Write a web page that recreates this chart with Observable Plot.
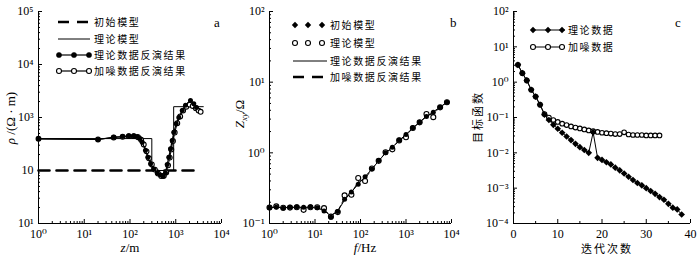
<!DOCTYPE html>
<html><head><meta charset="utf-8">
<script src="https://cdn.jsdelivr.net/npm/d3@7"></script>
<script src="https://cdn.jsdelivr.net/npm/@observablehq/plot@0.6"></script>
<style>
body{margin:0;background:#fff;}
#wrap{position:relative;width:700px;height:263px;overflow:hidden;}
.panel{position:absolute;top:0;height:263px;}
</style></head><body><div id="wrap"></div>
<script>
// ---------- Panel a: resistivity vs depth ----------
const aXTicks = [1, 10, 100, 1000, 10000];
const aXTickLabels = ["10⁰", "10¹", "10²", "10³", "10⁴"];
const aYTicks = [10, 100, 1000, 10000, 100000];
const aYTickLabels = ["10¹", "10", "10³", "10⁴", "10⁵"];
const aInitDepth = [1, 2500];
const aInitRho = [100, 100];
const aModelDepth = [1, 300, 300, 900, 900, 4000];
const aModelRho = [400, 400, 100, 100, 1600, 1600];
const aTheoryDepth = [1, 20, 44, 69, 94, 121, 144, 165, 185, 218, 245, 281, 331, 393, 464, 532, 597, 650, 705, 768, 836, 906, 1023, 1166, 1384, 1633, 2100, 2480, 2840];
const aTheoryRho   = [396, 385, 425, 437, 452, 452, 437, 400, 340, 240, 178, 134, 107, 90, 82, 77, 90, 130, 178, 257, 370, 525, 760, 1000, 1350, 1700, 2100, 1820, 1550];
const aNoisyDepth = [1, 20, 44, 69, 94, 121, 150, 175, 200, 230, 260, 300, 350, 410, 480, 550, 620, 680, 740, 800, 870, 950, 1080, 1250, 1450, 1700, 2000, 2350, 2750, 3150, 3500];
const aNoisyRho   = [396, 385, 420, 432, 445, 445, 425, 380, 310, 230, 170, 130, 104, 88, 79, 80, 92, 125, 175, 250, 360, 520, 780, 1050, 1350, 1600, 1750, 1650, 1500, 1350, 1280];
const aLegend = ["初始模型", "理论模型", "理论数据反演结果", "加噪数据反演结果"];

// ---------- Panel b: impedance vs frequency ----------
const bXTicks = [1, 10, 100, 1000, 10000];
const bXTickLabels = ["10⁰", "10¹", "10²", "10³", "10⁴"];
const bYTicks = [0.1, 1, 10, 100];
const bYTickLabels = ["10⁻¹", "10⁰", "10¹", "10²"];
const bFreq = [1, 1.41, 2, 2.82, 3.98, 5.62, 7.94, 11.2, 15.8, 22.4, 31.6, 44.7, 63.1, 89.1, 126, 178, 251, 355, 501, 708, 1000, 1413, 1995, 2818, 3981, 5623, 7943];
const bInitZ  = [0.167, 0.17, 0.165, 0.17, 0.172, 0.17, 0.172, 0.167, 0.15, 0.123, 0.148, 0.22, 0.28, 0.36, 0.46, 0.59, 0.78, 1.0, 1.2, 1.52, 1.82, 2.26, 2.7, 3.26, 3.75, 4.4, 5.2];
const bModelZ = [0.168, 0.175, 0.167, 0.168, 0.17, 0.156, 0.17, 0.17, 0.165, 0.125, 0.145, 0.25, 0.255, 0.44, 0.40, 0.6, 0.77, 1.02, 1.12, 1.5, 1.66, 2.25, 2.7, 3.55, 3.2, 4.4, 5.2];
const bTheoryInvZ = [0.168, 0.169, 0.168, 0.169, 0.17, 0.17, 0.17, 0.166, 0.152, 0.128, 0.15, 0.215, 0.28, 0.36, 0.46, 0.59, 0.77, 0.99, 1.2, 1.5, 1.82, 2.25, 2.7, 3.25, 3.8, 4.45, 5.2];
const bNoisyInvZ  = [0.168, 0.171, 0.167, 0.168, 0.169, 0.165, 0.169, 0.168, 0.155, 0.13, 0.15, 0.23, 0.27, 0.39, 0.43, 0.59, 0.77, 1.0, 1.17, 1.5, 1.75, 2.25, 2.7, 3.35, 3.6, 4.4, 5.2];
const bLegend = ["初始模型", "理论模型", "理论数据反演结果", "加噪数据反演结果"];

// ---------- Panel c: objective function vs iteration ----------
const cXTicks = [0, 10, 20, 30, 40];
const cXTickLabels = ["0", "10", "20", "30", "40"];
const cYTicks = [1e-4, 1e-3, 1e-2, 1e-1, 1, 10, 100];
const cYTickLabels = ["10⁻⁴", "10⁻³", "10⁻²", "10⁻¹", "10⁰", "10¹", "10²"];
const cTheoryIter = [1,2,3,4,5,6,7,8,9,10,11,12,13,14,15,16,17,18,19,20,21,22,23,24,25,26,27,28,29,30,31,32,33,34,35,36,37,38];
const cTheoryVal  = [3.1, 1.8, 1.12, 0.61, 0.39, 0.23, 0.12, 0.085, 0.062, 0.048, 0.037, 0.029, 0.023, 0.018, 0.0145, 0.012, 0.010, 0.038, 0.0072, 0.0063, 0.0054, 0.0047, 0.0038, 0.0032, 0.0026, 0.0021, 0.0017, 0.0014, 0.0012, 0.0010, 0.00083, 0.00069, 0.00056, 0.00047, 0.00036, 0.00028, 0.00025, 0.00018];
const cNoisyIter = [1,2,3,4,5,6,7,8,9,10,11,12,13,14,15,16,17,18,19,20,21,22,23,24,25,26,27,28,29,30,31,32,33];
const cNoisyVal  = [3.1, 1.8, 1.12, 0.61, 0.39, 0.23, 0.125, 0.10, 0.085, 0.075, 0.067, 0.061, 0.056, 0.052, 0.049, 0.046, 0.043, 0.041, 0.039, 0.037, 0.036, 0.035, 0.034, 0.034, 0.038, 0.033, 0.032, 0.032, 0.032, 0.031, 0.031, 0.031, 0.031];
const cLegend = ["理论数据", "加噪数据"];

// ---------- helpers ----------
const zip = (xs, ys) => xs.map((x, i) => ({x, y: ys[i]}));
const minorLog = (lo, hi) => { const t = []; for (let e = lo; e < hi; e++) for (let m = 2; m <= 9; m++) t.push(m * Math.pow(10, e)); return t; };
const serif = '"Liberation Serif", "DejaVu Serif", serif';
const cjk = '"Noto Sans CJK SC", sans-serif';
const sty = {fontFamily: serif, fontSize: "12px", color: "#000", background: "transparent", overflow: "visible"};
const fmt = (ticks, labels) => d => { const i = ticks.findIndex(t => t === d || Math.abs(t - d) / Math.abs(t || 1) < 1e-6); return i >= 0 ? labels[i] : ""; };

function axisMarks(xTicks, xLabels, xMinor, yTicks, yLabels, yMinor, x0, y0) {
  return [
    Plot.ruleY([y0], {strokeWidth: 1}),
    Plot.ruleX([x0], {strokeWidth: 1}),
    Plot.axisX({ticks: xTicks, tickSize: -4, fill: "none", label: null}),
    Plot.axisX({ticks: xMinor, tickSize: -2, fill: "none", label: null}),
    Plot.axisX({ticks: xTicks, tickSize: 0, tickPadding: 6, tickFormat: fmt(xTicks, xLabels), label: null}),
    Plot.axisY({ticks: yTicks, tickSize: -4, fill: "none", label: null}),
    Plot.axisY({ticks: yMinor, tickSize: -2, fill: "none", label: null}),
    Plot.axisY({ticks: yTicks, tickSize: 0, tickPadding: 5, tickFormat: fmt(yTicks, yLabels), label: null})
  ];
}

function addPanel(svg, left, width) {
  const div = document.createElement("div");
  div.className = "panel";
  div.style.left = left + "px";
  div.style.width = width + "px";
  div.appendChild(svg);
  document.getElementById("wrap").appendChild(div);
  return d3.select(svg);
}

function txt(g, x, y, family, size) {
  return g.append("text").attr("x", x).attr("y", y).attr("text-anchor", "start")
    .attr("font-family", family).attr("font-size", size).attr("font-weight", "normal").attr("fill", "#000");
}
function legendText(g, x, y, t) {
  txt(g, x, y, cjk, 10).attr("dy", "0.35em").attr("letter-spacing", "1.6px").text(t);
}
function legLine(g, x1, x2, y, w, dash) {
  const l = g.append("line").attr("x1", x1).attr("x2", x2).attr("y1", y).attr("y2", y).attr("stroke", "#000").attr("stroke-width", w);
  if (dash) l.attr("stroke-dasharray", dash);
}
function legDot(g, x, y, open) {
  g.append("circle").attr("cx", x).attr("cy", y).attr("r", open ? 2.5 : 2.6)
    .attr("fill", open ? "#fff" : "#000").attr("stroke", "#000").attr("stroke-width", open ? 1.1 : 0.5);
}
function legDiamond(g, x, y) {
  g.append("path").attr("d", `M${x},${y-3.2}L${x+3.2},${y}L${x},${y+3.2}L${x-3.2},${y}Z`).attr("fill", "#000");
}

// ---------- Panel a ----------
{
  const svg = Plot.plot({
    width: 233, height: 263, marginLeft: 38, marginRight: 12, marginTop: 11, marginBottom: 40,
    style: sty,
    x: {type: "log", domain: [1, 1e4]},
    y: {type: "log", domain: [10, 1e5]},
    marks: [
      ...axisMarks(aXTicks, aXTickLabels, minorLog(0, 4), aYTicks, aYTickLabels, minorLog(1, 5), 1, 10),
      Plot.line(zip(aInitDepth, aInitRho), {x: "x", y: "y", stroke: "#000", strokeWidth: 2.6, strokeDasharray: "11,7"}),
      Plot.line(zip(aModelDepth, aModelRho), {x: "x", y: "y", stroke: "#000", strokeWidth: 1}),
      Plot.line(zip(aNoisyDepth, aNoisyRho), {x: "x", y: "y", stroke: "#000", strokeWidth: 1}),
      Plot.dot(zip(aNoisyDepth, aNoisyRho), {x: "x", y: "y", r: 2.4, fill: "#fff", stroke: "#000", strokeWidth: 1.1}),
      Plot.line(zip(aTheoryDepth, aTheoryRho), {x: "x", y: "y", stroke: "#000", strokeWidth: 1.2}),
      Plot.dot(zip(aTheoryDepth, aTheoryRho), {x: "x", y: "y", r: 2.5, fill: "#000"})
    ]
  });
  const s = addPanel(svg, 0, 233);
  const g = s.append("g");
  const ys = [22, 39, 55, 71];
  legLine(g, 58, 90, ys[0], 2.6, "11,8");
  legLine(g, 58, 90, ys[1], 1);
  legLine(g, 58, 90, ys[2], 1.2); [59, 74, 89].forEach(x => legDot(g, x, ys[2], false));
  legLine(g, 58, 90, ys[3], 1.2); [59, 74, 89].forEach(x => legDot(g, x, ys[3], true));
  aLegend.forEach((t, i) => legendText(g, 94, ys[i], t));
  txt(g, 214, 27, serif, 13).text("a");
  const xt = txt(g, 130, 252, serif, 13).attr("text-anchor", "middle");
  xt.append("tspan").attr("font-style", "italic").text("z");
  xt.append("tspan").text("/m");
  const yt = txt(g, 0, 0, serif, 13).attr("transform", "translate(15,118) rotate(-90)").attr("text-anchor", "middle");
  yt.append("tspan").attr("font-style", "italic").text("ρ");
  yt.append("tspan").text(" /(Ω · m)");
}

// ---------- Panel b ----------
{
  const svg = Plot.plot({
    width: 233, height: 263, marginLeft: 36, marginRight: 15, marginTop: 11, marginBottom: 40,
    style: sty,
    x: {type: "log", domain: [1, 1e4]},
    y: {type: "log", domain: [0.1, 100]},
    marks: [
      ...axisMarks(bXTicks, bXTickLabels, minorLog(0, 4), bYTicks, bYTickLabels, minorLog(-1, 2), 1, 0.1),
      Plot.line(zip(bFreq, bNoisyInvZ), {x: "x", y: "y", stroke: "#000", strokeWidth: 1, strokeDasharray: "6,3"}),
      Plot.line(zip(bFreq, bTheoryInvZ), {x: "x", y: "y", stroke: "#000", strokeWidth: 1}),
      Plot.dot(zip(bFreq, bModelZ), {x: "x", y: "y", r: 2.5, fill: "#fff", stroke: "#000", strokeWidth: 1.1}),
      Plot.dot(zip(bFreq, bInitZ), {x: "x", y: "y", r: 2.5, fill: "#000"})
    ]
  });
  const s = addPanel(svg, 233, 233);
  const g = s.append("g");
  const ys = [25, 43, 61, 77];
  [62, 75, 89].forEach(x => legDiamond(g, x, ys[0]));
  [62, 75, 89].forEach(x => legDot(g, x, ys[1], true));
  legLine(g, 60, 94, ys[2], 1);
  legLine(g, 60, 94, ys[3], 2.6, "11,8");
  bLegend.forEach((t, i) => legendText(g, 97, ys[i], t));
  txt(g, 217, 27, serif, 13).text("b");
  const xt = txt(g, 132, 252, serif, 13).attr("text-anchor", "middle");
  xt.append("tspan").attr("font-style", "italic").text("f");
  xt.append("tspan").text("/Hz");
  const yt = txt(g, 0, 0, serif, 13).attr("transform", "translate(11,114) rotate(-90)").attr("text-anchor", "middle");
  yt.append("tspan").attr("font-style", "italic").text("Z");
  yt.append("tspan").attr("font-style", "italic").attr("font-size", 9).attr("dy", 3).text("xy");
  yt.append("tspan").attr("dy", -3).text("/Ω");
}

// ---------- Panel c ----------
{
  const svg = Plot.plot({
    width: 234, height: 263, marginLeft: 47, marginRight: 10, marginTop: 11, marginBottom: 40,
    style: sty,
    x: {type: "linear", domain: [0, 40]},
    y: {type: "log", domain: [1e-4, 100]},
    marks: [
      ...axisMarks(cXTicks, cXTickLabels, [5, 15, 25, 35], cYTicks, cYTickLabels, minorLog(-4, 2), 0, 1e-4),
      Plot.line(zip(cNoisyIter, cNoisyVal), {x: "x", y: "y", stroke: "#000", strokeWidth: 1}),
      Plot.dot(zip(cNoisyIter, cNoisyVal), {x: "x", y: "y", r: 2.3, fill: "#fff", stroke: "#000", strokeWidth: 1.1}),
      Plot.line(zip(cTheoryIter, cTheoryVal), {x: "x", y: "y", stroke: "#000", strokeWidth: 1}),
      Plot.dot(zip(cTheoryIter, cTheoryVal), {x: "x", y: "y", symbol: "diamond2", r: 3, fill: "#000"})
    ]
  });
  const s = addPanel(svg, 466, 234);
  const g = s.append("g");
  const ys = [30, 47];
  legLine(g, 66, 99, ys[0], 1.2); [67, 82, 96].forEach(x => legDiamond(g, x, ys[0]));
  legLine(g, 66, 99, ys[1], 1.2); [67, 82, 96].forEach(x => legDot(g, x, ys[1], true));
  cLegend.forEach((t, i) => legendText(g, 102, ys[i], t));
  txt(g, 209, 27, serif, 13).text("c");
  txt(g, 141, 253, cjk, 11).attr("text-anchor", "middle").attr("letter-spacing", "2px").text("迭代次数");
  txt(g, 0, 0, cjk, 11).attr("transform", "translate(16,117) rotate(-90)").attr("text-anchor", "middle").attr("letter-spacing", "2px").text("目标函数");
}
</script>
</body></html>
